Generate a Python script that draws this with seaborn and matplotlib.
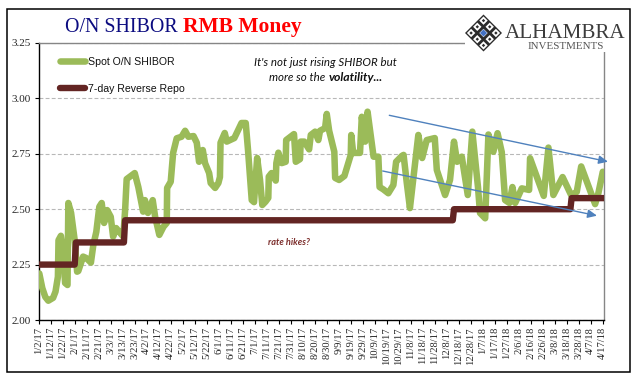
import numpy as np
import matplotlib
matplotlib.use("Agg")
import matplotlib.pyplot as plt
from matplotlib.patches import Polygon, Rectangle
import seaborn as sns

# days counted from 1/2/17
shibor_day = [0.5, 3, 5.5, 8, 12, 14, 16, 16.5, 18.5, 20.5, 22, 24, 24.7, 27, 30, 32, 33, 37, 39.5, 43.5,
              45.5, 48, 50.5, 52.5, 54.5, 57, 60, 62, 64.5, 67, 70.5, 72, 73.3, 80, 83, 87, 88.5, 91, 95, 97,
              100.5, 104, 106.7, 107, 110, 112, 115, 119, 122, 124.7, 129, 131.7, 133.6, 136.7, 138.6, 142,
              143.3, 147, 149.7, 151, 151.5, 155, 156.7, 163, 169, 172.5, 174.4, 177.5, 179.4, 182, 184.4,
              186.3, 189, 191.3, 191.7, 194, 197.5, 198, 199.7, 202.5, 205.8, 206.2, 209.5, 212.7, 214.2,
              217.7, 218.3, 221.3, 225.3, 226.7, 230.3, 233, 234.4, 238.6, 240, 242, 246.3, 247, 250.3, 254.7,
              260, 260.4, 262, 267.7, 269.2, 272, 274, 279, 283, 284, 287, 291.3, 295.5, 297.8, 302.5, 304,
              306.7, 309.3, 316.3, 319.5, 323.3, 330, 331.7, 338.6, 342.7, 346, 348.6, 352.5, 357.5, 361.3,
              366, 367.7, 372, 374.7, 378.8, 382.3, 385.8, 388.6, 392.2, 394.7, 397, 402.5, 408.6, 409.4,
              420.8, 424.7, 428.8, 436.5, 443.6, 448.3, 452, 463.6, 466.3, 470]
shibor_rate = [2.21, 2.144, 2.104, 2.087, 2.10, 2.128, 2.195, 2.36, 2.38, 2.30, 2.167, 2.158, 2.528, 2.483,
               2.36, 2.218, 2.221, 2.286, 2.28, 2.259, 2.338, 2.398, 2.511, 2.528, 2.438, 2.496, 2.466, 2.376,
               2.415, 2.398, 2.376, 2.496, 2.636, 2.663, 2.60, 2.489, 2.541, 2.483, 2.541, 2.466, 2.384, 2.421,
               2.438, 2.596, 2.624, 2.754, 2.82, 2.827, 2.854, 2.827, 2.83, 2.80, 2.714, 2.767, 2.708, 2.663,
               2.618, 2.596, 2.618, 2.645, 2.80, 2.844, 2.805, 2.821, 2.889, 2.889, 2.767, 2.541, 2.532, 2.731,
               2.632, 2.519, 2.534, 2.551, 2.647, 2.663, 2.629, 2.708, 2.755, 2.708, 2.714, 2.812, 2.826, 2.839,
               2.714, 2.726, 2.805, 2.805, 2.77, 2.835, 2.85, 2.812, 2.854, 2.866, 2.93, 2.854, 2.759, 2.641,
               2.632, 2.65, 2.745, 2.835, 2.754, 2.754, 2.917, 2.805, 2.94, 2.737, 2.737, 2.60, 2.59, 2.572,
               2.609, 2.714, 2.74, 2.745, 2.618, 2.505, 2.835, 2.731, 2.812, 2.821, 2.677, 2.564, 2.632, 2.805,
               2.714, 2.737, 2.564, 2.85, 2.60, 2.483, 2.459, 2.837, 2.759, 2.843, 2.758, 2.541, 2.528, 2.60,
               2.528, 2.594, 2.587, 2.73, 2.56, 2.778, 2.564, 2.645, 2.564, 2.578, 2.693, 2.523, 2.572, 2.669]

repo_day = [0, 30, 31, 71, 72, 345, 346, 443, 444, 471]
repo_rate = [2.25, 2.25, 2.35, 2.35, 2.45, 2.45, 2.50, 2.50, 2.55, 2.55]

tick_labels = ["1/2/17", "1/12/17", "1/22/17", "2/1/17", "2/11/17", "2/21/17", "3/3/17", "3/13/17", "3/23/17",
               "4/2/17", "4/12/17", "4/22/17", "5/2/17", "5/12/17", "5/22/17", "6/1/17", "6/11/17", "6/21/17",
               "7/1/17", "7/11/17", "7/21/17", "7/31/17", "8/10/17", "8/20/17", "8/30/17", "9/9/17", "9/19/17",
               "9/29/17", "10/9/17", "10/19/17", "10/29/17", "11/8/17", "11/18/17", "11/28/17", "12/8/17",
               "12/18/17", "12/28/17", "1/7/18", "1/17/18", "1/27/18", "2/6/18", "2/16/18", "2/26/18", "3/8/18",
               "3/18/18", "3/28/18", "4/7/18", "4/17/18"]
y_ticks = [2.00, 2.25, 2.50, 2.75, 3.00, 3.25]

W, H = 641, 381


def fx(px):
    return px / W


def fy(py):
    return 1 - py / H


sns.set_style("white")
plt.rcParams["font.family"] = ["Liberation Serif", "DejaVu Serif"]
plt.rcParams["lines.solid_capstyle"] = "round"
plt.rcParams["lines.solid_joinstyle"] = "round"

fig = plt.figure(figsize=(W / 100, H / 100), dpi=100, facecolor="white")
ax = fig.add_axes([fx(38.7), fy(320), fx(604) - fx(38.7), fy(43) - fy(320)])

sns.lineplot(x=shibor_day, y=shibor_rate, estimator=None, sort=False, color="#9BBB59", linewidth=4.7,
             label="Spot O/N SHIBOR", ax=ax, zorder=3)
sns.lineplot(x=repo_day, y=repo_rate, estimator=None, sort=False, color="#632523", linewidth=4.6,
             label="7-day Reverse Repo", ax=ax, zorder=4)

ax.set_xlim(0, 471)
ax.set_ylim(2.0, 3.25)
ax.set_xticks(np.arange(len(tick_labels)) * 10)
ax.set_xticklabels(tick_labels, rotation=90, fontsize=7.6, va="top", ha="center")
ax.set_yticks(y_ticks)
ax.set_yticklabels([f"{v:.2f}" for v in y_ticks], fontsize=8)
ax.tick_params(axis="x", direction="out", length=2.6, width=0.8, color="black", pad=2.5, bottom=True)
ax.tick_params(axis="y", direction="out", length=2.6, width=0.8, color="black", pad=3, left=True)
ax.set_xlabel("")
ax.set_ylabel("")
ax.grid(axis="y", color="#B8B8B8", linestyle=(0, (3.5, 2)), linewidth=0.8, zorder=1)
ax.set_axisbelow(True)
ax.spines["left"].set_color("black")
ax.spines["bottom"].set_color("black")
ax.spines["top"].set_color("#868686")
ax.spines["right"].set_color("#868686")
for s in ax.spines.values():
    s.set_linewidth(1.0)
    s.set_visible(True)

leg = ax.legend(loc="upper left", bbox_to_anchor=(0.0385, 0.949), frameon=False, borderaxespad=0, borderpad=0,
                handlelength=2.3, handletextpad=0.28, labelspacing=1.6,
                prop={"family": "Liberation Sans", "size": 7.6})
for t in leg.get_texts():
    t.set_color("#111111")

# trend arrows
for start, end in [((389.3, 115.3), (608, 161.7)), ((382.7, 171), (597, 215.7))]:
    ax.annotate("", xy=(fx(end[0]), fy(end[1])), xytext=(fx(start[0]), fy(start[1])),
                xycoords="figure fraction", textcoords="figure fraction", annotation_clip=False, zorder=6,
                arrowprops=dict(arrowstyle="-|>,head_length=0.55,head_width=0.25", color="#4F81BD", lw=1.0,
                                shrinkA=0, shrinkB=0))

# notes
note_font = "Lato"
fig.text(fx(325.5), fy(66), "It's not just rising SHIBOR but", family=note_font, style="italic", fontsize=8.3,
         ha="center", va="baseline", color="#111111")
fig.text(fx(269), fy(81), "more so the ", family=note_font, style="italic", fontsize=8.3, va="baseline",
         color="#111111")
fig.text(fx(329), fy(81), "volatility...", family=note_font, style="italic", weight="bold", fontsize=8.8,
         va="baseline", color="#111111")
fig.text(fx(288.5), fy(245), "rate hikes?", family=note_font, style="italic", weight="bold", fontsize=6.6,
         ha="center", va="baseline", color="#7B2C2A")

# title
fig.text(fx(65), fy(31.6), "O/N SHIBOR", family="Liberation Serif", fontsize=14.4, color="#0B0B80", va="baseline")
fig.text(fx(183), fy(31.6), "RMB Money", family="Liberation Serif", weight="bold", fontsize=15.5, color="#FF0000",
         va="baseline")

# white block behind the logo, then the outer frame
fig.add_artist(Rectangle((fx(465), fy(51.5)), fx(163), fy(10) - fy(51.5), transform=fig.transFigure,
                         facecolor="white", edgecolor="none", zorder=5))
fig.add_artist(Rectangle((fx(6.5), fy(372)), fx(623.8), fy(8.5) - fy(372), transform=fig.transFigure,
                         facecolor="none", edgecolor="black", linewidth=1.1, zorder=6))

# logo
cx, cy, r = 483.5, 33, 18.5


def diamond(px, py, size, color):
    pts = [(fx(px - size), fy(py)), (fx(px), fy(py - size)), (fx(px + size), fy(py)), (fx(px), fy(py + size))]
    fig.add_artist(Polygon(pts, closed=True, transform=fig.transFigure, facecolor=color, edgecolor="none", zorder=7))


diamond(cx, cy, r, "#2B2B2B")
for i in (-1, 0, 1):
    for j in (-1, 0, 1):
        px = cx + (i - j) * 6.2
        py = cy + (i + j) * 6.2
        diamond(px, py, 4.2, "white")
        diamond(px, py, 1.7, "#2B2B2B")
diamond(cx, cy, 3.6, "#4472C4")

fig.text(fx(505), fy(38), "ALHAMBRA", family="Liberation Serif", fontsize=15.2, color="#3C3C3C", va="baseline",
         zorder=7)
fig.text(fx(528), fy(49), "INVESTMENTS", family="Liberation Serif", fontsize=7.9, color="#555555", va="baseline",
         zorder=7)

fig.savefig("out.png", dpi=100, facecolor="white")
